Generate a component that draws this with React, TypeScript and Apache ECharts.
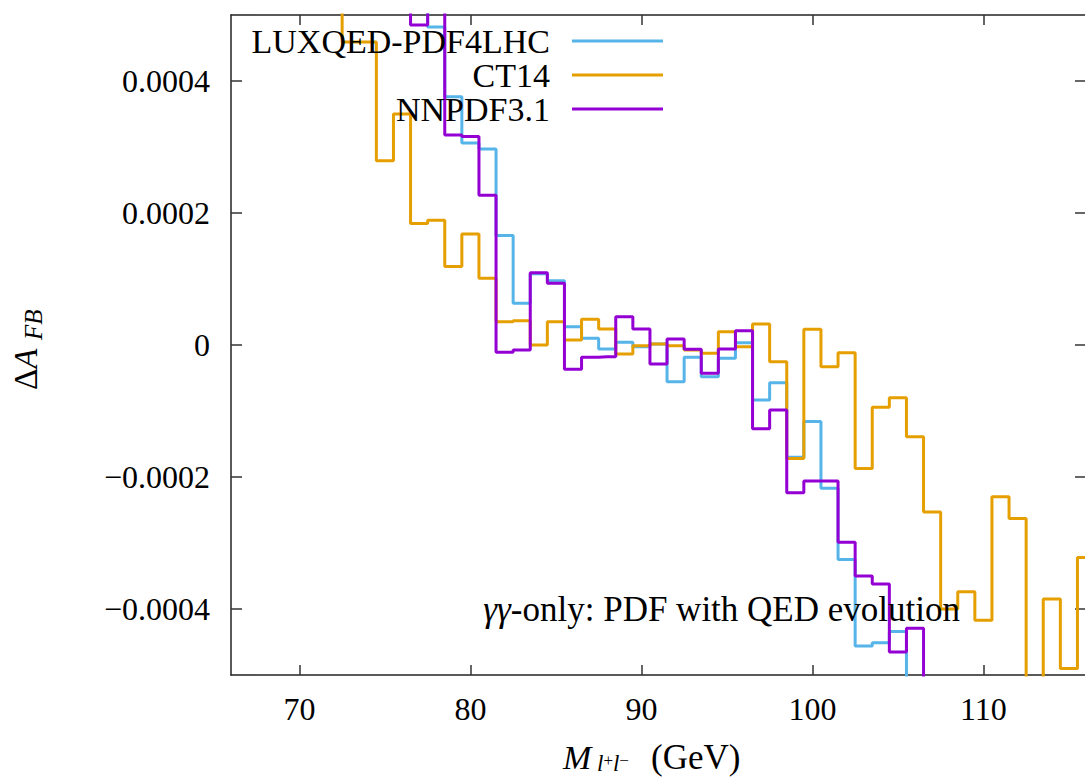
import React, { useEffect, useRef } from 'react';
import * as echarts from 'echarts';

// Bin centres (GeV), 1 GeV wide bins
const massBins = [
  66, 67, 68, 69, 70, 71, 72, 73, 74, 75, 76, 77, 78, 79, 80, 81, 82,
  83, 84, 85, 86, 87, 88, 89, 90, 91, 92, 93, 94, 95, 96, 97, 98, 99,
  100, 101, 102, 103, 104, 105, 106, 107, 108, 109, 110, 111, 112, 113,
  114, 115, 116,
];

const luxqed = [
  0.0009, 0.00088, 0.00085, 0.00082, 0.0008, 0.00077, 0.00074, 0.0007, 0.00066, 0.00062, 0.00058, 0.00054,
  0.000482, 0.000376, 0.000306, 0.000297, 0.000166, 0.0000632, 0.000108, 0.0000974, 0.0000277, 0.0000101,
  -0.0000061, 0.0000041, -0.0000025, 0.0000015, -0.0000556, -0.0000187, -0.000048, -0.0000202, 0.0000035,
  -0.0000833, -0.0000571, -0.00017, -0.000116, -0.000217, -0.000325, -0.000456, -0.000451, -0.000434,
  -0.00055, -0.0006, -0.00062, -0.00065, -0.00068, -0.0007, -0.00072, -0.00075, -0.00078, -0.0008, -0.00082,
];

const ct14 = [
  0.00068, 0.00066, 0.00063, 0.0006, 0.00058, 0.00056, 0.00054,
  0.000459, 0.000459, 0.000279, 0.00035, 0.000184, 0.000189, 0.000119, 0.000168, 0.000101, 0.0000353,
  0.0000368, 0.0, 0.0000353, 0.0000076, 0.0000389, 0.0000242, -0.0000136, -0.000001, 0.0000015, -0.000001,
  -0.0000076, -0.0000126, 0.00002, -0.0000026, 0.0000318, -0.0000253, -0.000172, 0.0000238, -0.0000329,
  -0.0000117, -0.000187, -0.0000944, -0.0000798, -0.000139, -0.000253, -0.0004, -0.000374, -0.000417,
  -0.00023, -0.000263, -0.00058, -0.000385, -0.00049, -0.000322,
];

const nnpdf = [
  0.00092, 0.0009, 0.00087, 0.00084, 0.0008, 0.00077, 0.00073, 0.00069, 0.00065, 0.0006, 0.00056,
  0.000485, 0.00053, 0.000318, 0.000316, 0.000227, -0.0000111, -0.0000076, 0.0001095, 0.0000934,
  -0.0000369, -0.0000187, -0.0000177, 0.0000429, 0.0000242, -0.0000288, 0.0000091, -0.0000066, -0.0000429,
  -0.0000061, 0.0000217, -0.000127, -0.0000985, -0.000224, -0.000206, -0.000206, -0.000299, -0.00035,
  -0.000362, -0.000465, -0.000429,
  -0.00056, -0.0006, -0.00063, -0.00066, -0.0007, -0.00072, -0.00075, -0.00078, -0.0008, -0.00083,
];

const seriesNames = ['LUXQED-PDF4LHC', 'CT14', 'NNPDF3.1'];
const seriesColors = ['#56B4E9', '#E69F00', '#9400D3'];
const xTickValues = [70, 80, 90, 100, 110];
const yTickValues = [-0.0004, -0.0002, 0, 0.0002, 0.0004];
const annotationText = '-only: PDF with QED evolution';

const FONT = "'Liberation Serif', 'DejaVu Serif', serif";

const fmtY = (v: number) => {
  if (Math.abs(v) < 1e-12) return '0';
  return (v < 0 ? '\u2212' : '') + Math.abs(v).toFixed(4);
};

export default function App() {
  const ref = useRef<HTMLDivElement>(null);

  useEffect(() => {
    if (!ref.current) return;
    const chart = echarts.init(ref.current, undefined, { renderer: 'svg' });
    const allSeries = [luxqed, ct14, nnpdf];

    const axisLineStyle = { color: '#222', width: 1.5 };
    const tickStyle = { color: '#333', width: 1.5 };

    const legendItems: any[] = [];
    const legendY = [41, 75, 109];
    seriesNames.forEach((name, i) => {
      legendItems.push({
        type: 'text',
        x: 550,
        y: legendY[i],
        style: {
          text: name,
          font: `34px ${FONT}`,
          fill: '#000',
          align: 'right',
          verticalAlign: 'middle',
        },
        z: 100,
      });
      legendItems.push({
        type: 'line',
        shape: { x1: 572, y1: legendY[i], x2: 663, y2: legendY[i] },
        style: { stroke: seriesColors[i], lineWidth: 3 },
        z: 100,
      });
    });

    const option: any = {
      animation: false,
      backgroundColor: '#fff',
      grid: { left: 231, right: -1, top: 15, bottom: 104, outerBoundsMode: 'none', containLabel: false },
      xAxis: [
        {
          type: 'value',
          min: 66,
          max: 116,
          position: 'bottom',
          axisLine: { show: true, onZero: false, lineStyle: axisLineStyle },
          axisTick: { show: true, inside: true, length: 10, customValues: xTickValues, lineStyle: tickStyle },
          axisLabel: {
            customValues: xTickValues,
            fontSize: 32,
            fontFamily: FONT,
            color: '#000',
            margin: 18,
            formatter: (v: number) => String(v),
          },
          splitLine: { show: false },
        },
        {
          type: 'value',
          min: 66,
          max: 116,
          position: 'top',
          axisLine: { show: true, onZero: false, lineStyle: axisLineStyle },
          axisTick: { show: true, inside: true, length: 10, customValues: xTickValues, lineStyle: tickStyle },
          axisLabel: { show: false },
          splitLine: { show: false },
        },
      ],
      yAxis: [
        {
          type: 'value',
          min: -0.0005,
          max: 0.0005,
          position: 'left',
          axisLine: { show: true, onZero: false, lineStyle: axisLineStyle },
          axisTick: { show: true, inside: true, length: 11, customValues: yTickValues, lineStyle: tickStyle },
          axisLabel: {
            customValues: yTickValues,
            fontSize: 32,
            fontFamily: FONT,
            color: '#000',
            margin: 21,
            formatter: fmtY,
          },
          splitLine: { show: false },
        },
        {
          type: 'value',
          min: -0.0005,
          max: 0.0005,
          position: 'right',
          axisLine: { show: true, onZero: false, lineStyle: axisLineStyle },
          axisTick: { show: true, inside: true, length: 11, customValues: yTickValues, lineStyle: tickStyle },
          axisLabel: { show: false },
          splitLine: { show: false },
        },
      ],
      series: allSeries.map((vals, i) => ({
        name: seriesNames[i],
        type: 'line',
        step: 'middle',
        xAxisIndex: 0,
        yAxisIndex: 0,
        showSymbol: false,
        symbol: 'none',
        clip: true,
        data: massBins.map((m, j) => [m, vals[j]]),
        lineStyle: { color: seriesColors[i], width: 3 },
        itemStyle: { color: seriesColors[i] },
        z: 2 + i,
      })),
      graphic: [
        ...legendItems,
        {
          type: 'text',
          x: 960,
          y: 609,
          style: {
            text: '{g|\u03b3\u03b3}{n|' + annotationText + '}',
            align: 'right',
            verticalAlign: 'middle',
            rich: {
              g: { fontSize: 35, fontFamily: FONT, fontStyle: 'italic', fill: '#000' },
              n: { fontSize: 35, fontFamily: FONT, fill: '#000' },
            },
          },
          z: 100,
        },
        // y-axis title: ΔA_FB (rotated)
        {
          type: 'group',
          x: 26,
          y: 340,
          rotation: Math.PI / 2,
          children: [
            {
              type: 'text',
              x: -50,
              y: 0,
              style: {
                text: '{d|\u0394}{a|A}',
                align: 'left',
                verticalAlign: 'middle',
                rich: {
                  d: { fontSize: 33, fontFamily: FONT, fill: '#000' },
                  a: { fontSize: 33, fontFamily: FONT, fontStyle: 'italic', fill: '#000' },
                },
              },
            },
            {
              type: 'text',
              x: 0,
              y: 7,
              style: {
                text: 'FB',
                font: `italic 25px ${FONT}`,
                fill: '#000',
                align: 'left',
                verticalAlign: 'middle',
              },
            },
          ],
        },
        // x-axis title: M_{l+l-} (GeV)
        {
          type: 'text',
          x: 563,
          y: 757,
          style: {
            text: 'M',
            font: `italic 34px ${FONT}`,
            fill: '#000',
            align: 'left',
            verticalAlign: 'middle',
          },
        },
        {
          type: 'text',
          x: 597,
          y: 763,
          style: {
            text: '{l|l}{s|+}{l|l}{s|\u2212}',
            align: 'left',
            verticalAlign: 'middle',
            rich: {
              l: { fontSize: 23, fontFamily: FONT, fontStyle: 'italic', fill: '#000' },
              s: { fontSize: 17, fontFamily: FONT, fill: '#000', verticalAlign: 'top' },
            },
          },
        },
        {
          type: 'text',
          x: 651,
          y: 757,
          style: {
            text: '(GeV)',
            font: `35px ${FONT}`,
            fill: '#000',
            align: 'left',
            verticalAlign: 'middle',
          },
        },
      ],
    };

    chart.setOption(option);
    return () => chart.dispose();
  }, []);

  return (
    <div
      ref={ref}
      style={{ position: 'absolute', left: 0, top: 0, width: 1085, height: 779, background: '#fff' }}
    />
  );
}
